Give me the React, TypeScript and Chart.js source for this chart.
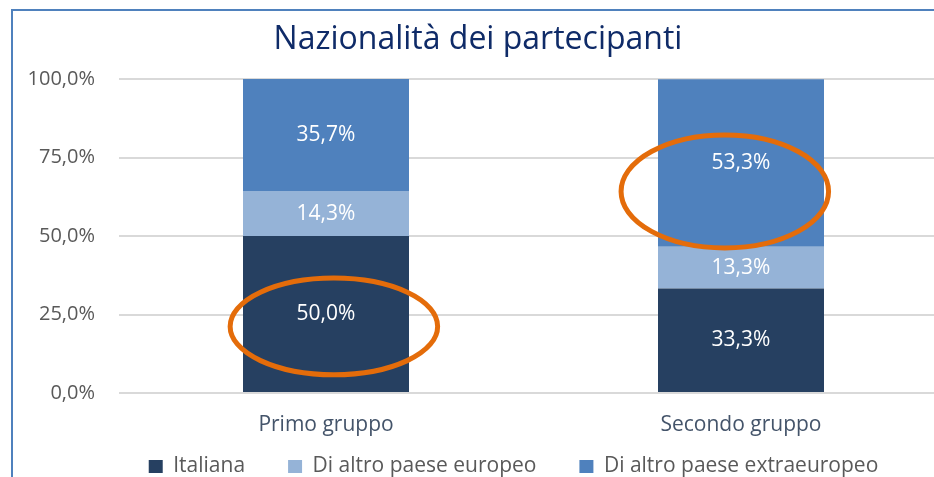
import React, { useEffect, useRef } from "react";
import { Chart, registerables } from "chart.js";

Chart.register(...registerables);

const CATEGORIES = ["Primo gruppo", "Secondo gruppo"];
const SERIES_NAMES = ["Italiana", "Di altro paese europeo", "Di altro paese extraeuropeo"];
const ITALIANA = [50.0, 33.3];
const EUROPEO = [14.3, 13.3];
const EXTRAEUROPEO = [35.7, 53.3];
const Y_TICKS = [0, 25, 50, 75, 100];
const TITLE = "Nazionalità dei partecipanti";

// highlight ellipses (annotation), in data units
const ELLIPSE_CATEGORY = [0, 1];
const ELLIPSE_CENTER_VALUE = [21.2, 64.2];
const ELLIPSE_OFFSET_CAT = [0.019, -0.039];
const ELLIPSE_RX_CAT = [0.25, 0.25];
const ELLIPSE_RY_VALUE = [15.4, 18.0];

const COLORS = ["#264061", "#95B3D7", "#4F81BD"];
const FONT = "'Open Sans', sans-serif";

const fmt = (v: number) => v.toFixed(1).replace(".", ",") + "%";

const dataLabels = {
  id: "dataLabels",
  afterDatasetsDraw(chart: any) {
    const ctx = chart.ctx;
    ctx.save();
    ctx.font = `21px ${FONT}`;
    ctx.fillStyle = "#FFFFFF";
    ctx.textAlign = "center";
    ctx.textBaseline = "middle";
    chart.data.datasets.forEach((ds: any, di: number) => {
      const meta = chart.getDatasetMeta(di);
      meta.data.forEach((el: any, i: number) => {
        const v = ds.data[i];
        ctx.fillText(fmt(v), el.x, (el.y + el.base) / 2);
      });
    });
    ctx.restore();
  },
};

const ellipses = {
  id: "ellipses",
  afterDraw(chart: any) {
    const ctx = chart.ctx;
    const xs = chart.scales.x;
    const ys = chart.scales.y;
    const catW = (xs.right - xs.left) / CATEGORIES.length;
    ctx.save();
    ctx.strokeStyle = "#E46C0A";
    ctx.lineWidth = 5;
    ELLIPSE_CATEGORY.forEach((c, i) => {
      const cx = xs.getPixelForValue(c) + ELLIPSE_OFFSET_CAT[i] * catW;
      const cy = ys.getPixelForValue(ELLIPSE_CENTER_VALUE[i]);
      const rx = ELLIPSE_RX_CAT[i] * catW;
      const ry = Math.abs(ys.getPixelForValue(0) - ys.getPixelForValue(ELLIPSE_RY_VALUE[i]));
      ctx.beginPath();
      ctx.ellipse(cx, cy, rx, ry, 0, 0, Math.PI * 2);
      ctx.stroke();
    });
    ctx.restore();
  },
};

const layoutTweak = {
  id: "layoutTweak",
  afterLayout(chart: any) {
    const dx = 35.5;
    if (chart.legend) {
      chart.legend.left += dx;
      chart.legend.right += dx;
    }
    // let the category labels draw below the (thin) x-axis box without clipping
    if (chart.scales.x) chart.scales.x.bottom = chart.scales.x.top + 60;
  },
};

export default function App() {
  const ref = useRef<HTMLCanvasElement | null>(null);
  useEffect(() => {
    if (!ref.current) return;
    const chart = new Chart(ref.current, {
      type: "bar",
      data: {
        labels: CATEGORIES,
        datasets: [
          { label: SERIES_NAMES[0], data: ITALIANA, backgroundColor: COLORS[0] },
          { label: SERIES_NAMES[1], data: EUROPEO, backgroundColor: COLORS[1] },
          { label: SERIES_NAMES[2], data: EXTRAEUROPEO, backgroundColor: COLORS[2] },
        ],
      },
      options: {
        responsive: false,
        animation: false,
        datasets: { bar: { categoryPercentage: 0.4, barPercentage: 1 } },
        layout: { padding: { left: 7.5, right: 11.5, top: 0, bottom: 0 } },
        scales: {
          x: {
            stacked: true,
            grid: { display: false, drawTicks: false },
            border: { display: false },
            ticks: { color: "#44546A", font: { family: FONT, size: 21 }, padding: 19 },
            afterFit: (s: any) => { s.height = 20; },
          },
          y: {
            stacked: true,
            min: 0,
            max: 100,
            afterBuildTicks: (s: any) => { s.ticks = Y_TICKS.map((v) => ({ value: v })); },
            grid: { color: "#D9D9D9", lineWidth: 2, drawTicks: false },
            border: { display: false },
            ticks: {
              color: "#595959",
              font: { family: FONT, size: 20 },
              padding: 23.5,
              callback: (v: any) => fmt(Number(v)),
            },
            afterFit: (s: any) => { s.width = 111; },
          },
        },
        plugins: {
          title: {
            display: true,
            text: TITLE,
            color: "#0F2B68",
            font: { family: FONT, size: 32, weight: "normal" },
            padding: { top: 21, bottom: 19.6 },
          },
          legend: {
            position: "bottom",
            labels: {
              boxWidth: 14,
              boxHeight: 13,
              padding: 43,
              color: "#595959",
              font: { family: FONT, size: 21 },
            },
          },
          tooltip: { enabled: false },
        },
      },
      plugins: [dataLabels, ellipses, layoutTweak],
    } as any);
    return () => chart.destroy();
  }, []);

  return (
    <div style={{ position: "fixed", left: 0, top: 0, width: 934, height: 477, overflow: "hidden", background: "#fff" }}>
      <canvas ref={ref} width={960} height={487} style={{ position: "absolute", left: 0, top: 0, width: 960, height: 487 }} />
      <div style={{ position: "absolute", left: 11, top: 9, width: 1000, height: 600, borderLeft: "2px solid #4F81BD", borderTop: "2px solid #4F81BD" }} />
    </div>
  );
}
